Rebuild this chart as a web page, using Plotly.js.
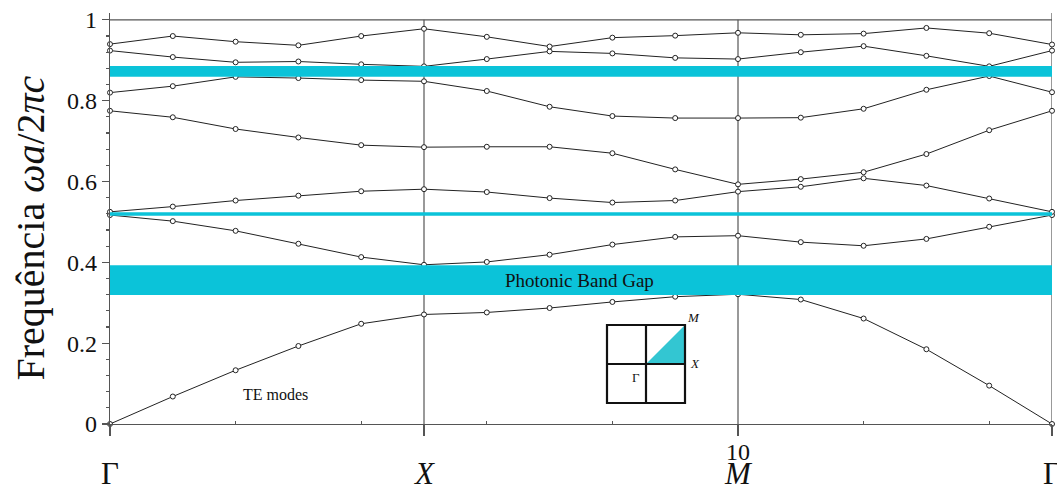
<!DOCTYPE html>
<html>
<head>
<meta charset="utf-8">
<script src="https://cdn.plot.ly/plotly-3.0.1.min.js"></script>
<style>
  html, body { margin: 0; padding: 0; background: #fff; }
  #plot { width: 1057px; height: 490px; }
</style>
</head>
<body>
<div id="plot"></div>
<script>
// k-path index (Γ -> X -> M -> Γ), 5 steps per segment
const kPath = [0, 1, 2, 3, 4, 5, 6, 7, 8, 9, 10, 11, 12, 13, 14, 15];

// TE bands, normalized frequency ωa/2πc
const band1 = [0, 0.068, 0.133, 0.193, 0.248, 0.271, 0.276, 0.287, 0.302, 0.315, 0.321, 0.308, 0.261, 0.185, 0.095, 0];
const band2 = [0.517, 0.502, 0.478, 0.446, 0.413, 0.394, 0.401, 0.419, 0.444, 0.463, 0.466, 0.450, 0.441, 0.458, 0.488, 0.517];
const band3 = [0.525, 0.538, 0.553, 0.565, 0.576, 0.581, 0.574, 0.559, 0.548, 0.553, 0.575, 0.587, 0.608, 0.590, 0.558, 0.525];
const band4 = [0.775, 0.759, 0.730, 0.709, 0.690, 0.685, 0.686, 0.686, 0.670, 0.630, 0.593, 0.606, 0.623, 0.668, 0.727, 0.775];
const band5 = [0.820, 0.836, 0.859, 0.856, 0.851, 0.848, 0.824, 0.785, 0.762, 0.757, 0.757, 0.758, 0.780, 0.827, 0.861, 0.821];
const band6 = [0.924, 0.908, 0.895, 0.897, 0.890, 0.885, 0.903, 0.922, 0.917, 0.906, 0.903, 0.920, 0.935, 0.911, 0.885, 0.924];
const band7 = [0.940, 0.960, 0.946, 0.937, 0.960, 0.978, 0.958, 0.934, 0.956, 0.961, 0.968, 0.963, 0.966, 0.980, 0.967, 0.939];
const bands = [band1, band2, band3, band4, band5, band6, band7];

// gaps (cyan strips)
const gapLow = [0.319, 0.515, 0.859];
const gapHigh = [0.393, 0.524, 0.886];

// symmetry points
const symPos = [0, 5, 10, 15];
const symLabels = ['Γ', '<i>X</i>', '<i>M</i>', 'Γ'];

const yTicks = [0, 0.2, 0.4, 0.6, 0.8, 1];
const yTickText = ['0', '0.2', '0.4', '0.6', '0.8', '1'];

const serif = 'Liberation Serif';
const lineCol = '#222';
const axisCol = '#555';
const cyan = '#0bc3d9';

let traces = bands.map(b => ({
  x: kPath,
  y: b,
  mode: 'lines+markers',
  line: { color: lineCol, width: 1 },
  marker: { symbol: 'circle', size: 5, color: '#fff', line: { color: lineCol, width: 1 } },
  cliponaxis: false,
  hoverinfo: 'x+y'
}));

let shapes = [];
// gap strips
for (let i = 0; i < gapLow.length; i++) {
  shapes.push({
    type: 'rect', xref: 'x', yref: 'y',
    x0: kPath[0], x1: kPath[kPath.length - 1], y0: gapLow[i], y1: gapHigh[i],
    fillcolor: cyan, line: { width: 0 }, layer: 'above'
  });
}
// vertical lines at X and M
for (let i = 1; i < symPos.length - 1; i++) {
  shapes.push({
    type: 'line', xref: 'x', yref: 'y',
    x0: symPos[i], x1: symPos[i], y0: 0, y1: 1,
    line: { color: axisCol, width: 1.2 }, layer: 'below'
  });
}
// right edge line at Γ
shapes.push({
  type: 'line', xref: 'x', yref: 'paper',
  x0: symPos[3], x1: symPos[3], y0: 0, y1: 1,
  line: { color: axisCol, width: 1.2 }, layer: 'below'
});
// top line at 1
shapes.push({
  type: 'line', xref: 'x', yref: 'y',
  x0: symPos[0], x1: symPos[3], y0: 1, y1: 1,
  line: { color: axisCol, width: 1.2 }, layer: 'below'
});

// Brillouin zone inset
const insetCx = 8.535, insetCy = 0.1485, insetHx = 0.621, insetHy = 0.0965;
const insetLine = { color: '#111', width: 2.2 };
shapes.push({
  type: 'path', xref: 'x', yref: 'y',
  path: 'M ' + insetCx + ',' + insetCy + ' L ' + (insetCx + insetHx) + ',' + insetCy +
        ' L ' + (insetCx + insetHx) + ',' + (insetCy + insetHy) + ' Z',
  fillcolor: '#33c6d2', line: { width: 0 }, layer: 'above'
});
shapes.push({
  type: 'rect', xref: 'x', yref: 'y',
  x0: insetCx - insetHx, x1: insetCx + insetHx, y0: insetCy - insetHy, y1: insetCy + insetHy,
  line: insetLine, layer: 'above'
});
shapes.push({
  type: 'line', xref: 'x', yref: 'y',
  x0: insetCx, x1: insetCx, y0: insetCy - insetHy, y1: insetCy + insetHy,
  line: insetLine, layer: 'above'
});
shapes.push({
  type: 'line', xref: 'x', yref: 'y',
  x0: insetCx - insetHx, x1: insetCx + insetHx, y0: insetCy, y1: insetCy,
  line: insetLine, layer: 'above'
});

let annotations = [];
symPos.forEach((p, i) => {
  annotations.push({
    x: p, xref: 'x', y: 0, yref: 'paper', yshift: -49,
    text: symLabels[i], showarrow: false, xanchor: 'center', yanchor: 'middle',
    font: { family: serif, size: 31, color: '#111' }
  });
});
annotations.push({
  x: 0, xref: 'paper', xshift: -80, y: 0.5, yref: 'paper', yshift: -10,
  text: 'Frequência <i>ωa</i>/2<i>πc</i>', textangle: -90, showarrow: false,
  xanchor: 'center', yanchor: 'middle',
  font: { family: serif, size: 40, color: '#111' }
});
annotations.push({
  x: 7.48, y: (gapLow[0] + gapHigh[0]) / 2, text: 'Photonic Band Gap', showarrow: false,
  font: { family: serif, size: 19, color: '#111' }
});
annotations.push({
  x: 2.63, y: 0.072, text: 'TE modes', showarrow: false,
  font: { family: serif, size: 16, color: '#111' }
});
annotations.push({
  x: insetCx + insetHx + 0.14, y: insetCy + insetHy + 0.018, text: '<i>M</i>', showarrow: false,
  font: { family: serif, size: 13, color: '#111' }
});
annotations.push({
  x: insetCx + insetHx + 0.16, y: insetCy, text: '<i>X</i>', showarrow: false,
  font: { family: serif, size: 13, color: '#111' }
});
annotations.push({
  x: insetCx - 0.16, y: insetCy - 0.033, text: 'Γ', showarrow: false,
  font: { family: serif, size: 13, color: '#111' }
});

let layout = {
  width: 1057,
  height: 490,
  margin: { l: 110, r: 5, t: 13, b: 66 },
  paper_bgcolor: '#fff',
  plot_bgcolor: '#fff',
  showlegend: false,
  font: { family: serif, color: '#111' },
  xaxis: {
    range: [0, 15],
    showgrid: false,
    zeroline: false,
    showline: true,
    linecolor: axisCol,
    linewidth: 1.2,
    tickmode: 'array',
    tickvals: symPos,
    ticktext: ['', '', '10', ''],
    ticks: 'outside',
    ticklen: 11,
    tickcolor: axisCol,
    tickwidth: 1.2,
    ticklabelstandoff: -5,
    tickfont: { family: serif, size: 24, color: '#111' },
    minor: { tickmode: 'array', tickvals: [2, 4, 6, 8, 12, 14], ticks: 'inside', ticklen: 3, tickcolor: axisCol }
  },
  yaxis: {
    range: [0, 1.017],
    showgrid: false,
    zeroline: false,
    showline: true,
    linecolor: axisCol,
    linewidth: 1.2,
    tickmode: 'array',
    tickvals: yTicks,
    ticktext: yTickText,
    ticks: 'outside',
    ticklen: 7,
    tickcolor: axisCol,
    tickwidth: 1.2,
    tickfont: { family: serif, size: 24, color: '#111' },
    minor: { tick0: 0, dtick: 0.04, ticks: 'outside', ticklen: 3, tickcolor: axisCol }
  },
  shapes: shapes,
  annotations: annotations
};

Plotly.newPlot('plot', traces, layout, { displayModeBar: false, staticPlot: true });
</script>
</body>
</html>
